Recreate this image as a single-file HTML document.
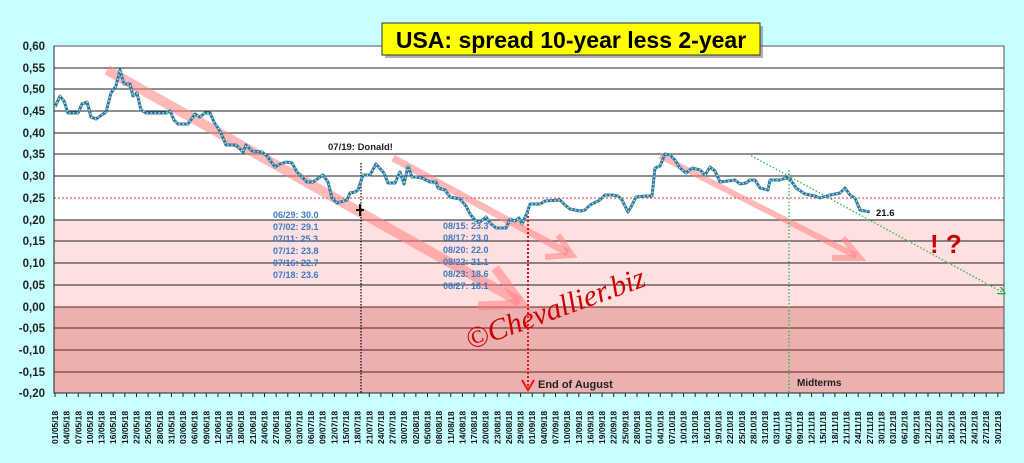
<!DOCTYPE html>
<html><head><meta charset="utf-8"><style>
body{margin:0;background:#c8ffff;}
svg{display:block;font-family:"Liberation Sans",sans-serif;}
</style></head><body>
<svg width="1024" height="463" viewBox="0 0 1024 463" xmlns="http://www.w3.org/2000/svg">
<defs>
<marker id="ah" markerWidth="6" markerHeight="6" refX="3" refY="3" orient="auto"><path d="M0,0 L6,3 L0,6" fill="none" stroke="#22aa44" stroke-width="1"/></marker>
</defs>
<rect width="1024" height="463" fill="#c8ffff"/>
<rect x="54" y="46" width="950" height="174" fill="#ffffff"/>
<rect x="54" y="220" width="950" height="87" fill="#ffe0e0"/>
<rect x="54" y="307" width="950" height="86" fill="#ebb0b0"/>
<g stroke="#222" stroke-width="1">
<line x1="54" y1="46" x2="1004" y2="46"/><line x1="54" y1="68" x2="1004" y2="68"/>
<line x1="54" y1="89" x2="1004" y2="89"/><line x1="54" y1="111" x2="1004" y2="111"/>
<line x1="54" y1="133" x2="1004" y2="133"/><line x1="54" y1="154" x2="1004" y2="154"/>
<line x1="54" y1="176" x2="1004" y2="176"/>
<line x1="54" y1="220" x2="1004" y2="220"/><line x1="54" y1="241" x2="1004" y2="241"/>
<line x1="54" y1="263" x2="1004" y2="263"/><line x1="54" y1="285" x2="1004" y2="285"/>
<line x1="54" y1="307" x2="1004" y2="307" stroke="#6a2020"/><line x1="54" y1="328" x2="1004" y2="328" stroke="#6a2020"/>
<line x1="54" y1="350" x2="1004" y2="350" stroke="#6a2020"/><line x1="54" y1="372" x2="1004" y2="372" stroke="#6a2020"/>
</g>
<line x1="54" y1="198" x2="1004" y2="198" stroke="#e03030" stroke-width="1" stroke-dasharray="2,2"/>
<rect x="54" y="46" width="950" height="347" fill="none" stroke="#555" stroke-width="1"/>
<line x1="54" y1="46" x2="54" y2="393" stroke="#222"/>
<line x1="54" y1="393" x2="1004" y2="393" stroke="#222"/>
<g font-size="11.5" font-weight="bold" fill="#222" text-anchor="end">
<text x="45" y="50">0,60</text><text x="45" y="72">0,55</text><text x="45" y="93">0,50</text>
<text x="45" y="115">0,45</text><text x="45" y="137">0,40</text><text x="45" y="158">0,35</text>
<text x="45" y="180">0,30</text><text x="45" y="202">0,25</text><text x="45" y="224">0,20</text>
<text x="45" y="245">0,15</text><text x="45" y="267">0,10</text><text x="45" y="289">0,05</text>
<text x="45" y="311">0,00</text><text x="45" y="332">-0,05</text><text x="45" y="354">-0,10</text>
<text x="45" y="376">-0,15</text><text x="45" y="397">-0,20</text>
</g>
<line x1="54.5" y1="395" x2="1000" y2="395" stroke="#222" stroke-width="4" stroke-dasharray="1,10.64"/>
<g font-size="8.5" font-weight="bold" fill="#111">
<text transform="translate(58,444) rotate(-90)">01/05/18</text>
<text transform="translate(69.6,444) rotate(-90)">04/05/18</text>
<text transform="translate(81.3,444) rotate(-90)">07/05/18</text>
<text transform="translate(92.9,444) rotate(-90)">10/05/18</text>
<text transform="translate(104.6,444) rotate(-90)">13/05/18</text>
<text transform="translate(116.2,444) rotate(-90)">16/05/18</text>
<text transform="translate(127.8,444) rotate(-90)">19/05/18</text>
<text transform="translate(139.5,444) rotate(-90)">22/05/18</text>
<text transform="translate(151.1,444) rotate(-90)">25/05/18</text>
<text transform="translate(162.8,444) rotate(-90)">28/05/18</text>
<text transform="translate(174.4,444) rotate(-90)">31/05/18</text>
<text transform="translate(186,444) rotate(-90)">03/06/18</text>
<text transform="translate(197.7,444) rotate(-90)">06/06/18</text>
<text transform="translate(209.3,444) rotate(-90)">09/06/18</text>
<text transform="translate(221,444) rotate(-90)">12/06/18</text>
<text transform="translate(232.6,444) rotate(-90)">15/06/18</text>
<text transform="translate(244.2,444) rotate(-90)">18/06/18</text>
<text transform="translate(255.9,444) rotate(-90)">21/06/18</text>
<text transform="translate(267.5,444) rotate(-90)">24/06/18</text>
<text transform="translate(279.2,444) rotate(-90)">27/06/18</text>
<text transform="translate(290.8,444) rotate(-90)">30/06/18</text>
<text transform="translate(302.4,444) rotate(-90)">03/07/18</text>
<text transform="translate(314.1,444) rotate(-90)">06/07/18</text>
<text transform="translate(325.7,444) rotate(-90)">09/07/18</text>
<text transform="translate(337.4,444) rotate(-90)">12/07/18</text>
<text transform="translate(349,444) rotate(-90)">15/07/18</text>
<text transform="translate(360.6,444) rotate(-90)">18/07/18</text>
<text transform="translate(372.3,444) rotate(-90)">21/07/18</text>
<text transform="translate(383.9,444) rotate(-90)">24/07/18</text>
<text transform="translate(395.6,444) rotate(-90)">27/07/18</text>
<text transform="translate(407.2,444) rotate(-90)">30/07/18</text>
<text transform="translate(418.8,444) rotate(-90)">02/08/18</text>
<text transform="translate(430.5,444) rotate(-90)">05/08/18</text>
<text transform="translate(442.1,444) rotate(-90)">08/08/18</text>
<text transform="translate(453.8,444) rotate(-90)">11/08/18</text>
<text transform="translate(465.4,444) rotate(-90)">14/08/18</text>
<text transform="translate(477,444) rotate(-90)">17/08/18</text>
<text transform="translate(488.7,444) rotate(-90)">20/08/18</text>
<text transform="translate(500.3,444) rotate(-90)">23/08/18</text>
<text transform="translate(512,444) rotate(-90)">26/08/18</text>
<text transform="translate(523.6,444) rotate(-90)">29/08/18</text>
<text transform="translate(535.2,444) rotate(-90)">01/09/18</text>
<text transform="translate(546.9,444) rotate(-90)">04/09/18</text>
<text transform="translate(558.5,444) rotate(-90)">07/09/18</text>
<text transform="translate(570.2,444) rotate(-90)">10/09/18</text>
<text transform="translate(581.8,444) rotate(-90)">13/09/18</text>
<text transform="translate(593.4,444) rotate(-90)">16/09/18</text>
<text transform="translate(605.1,444) rotate(-90)">19/09/18</text>
<text transform="translate(616.7,444) rotate(-90)">22/09/18</text>
<text transform="translate(628.4,444) rotate(-90)">25/09/18</text>
<text transform="translate(640,444) rotate(-90)">28/09/18</text>
<text transform="translate(651.6,444) rotate(-90)">01/10/18</text>
<text transform="translate(663.3,444) rotate(-90)">04/10/18</text>
<text transform="translate(674.9,444) rotate(-90)">07/10/18</text>
<text transform="translate(686.6,444) rotate(-90)">10/10/18</text>
<text transform="translate(698.2,444) rotate(-90)">13/10/18</text>
<text transform="translate(709.8,444) rotate(-90)">16/10/18</text>
<text transform="translate(721.5,444) rotate(-90)">19/10/18</text>
<text transform="translate(733.1,444) rotate(-90)">22/10/18</text>
<text transform="translate(744.8,444) rotate(-90)">25/10/18</text>
<text transform="translate(756.4,444) rotate(-90)">28/10/18</text>
<text transform="translate(768,444) rotate(-90)">31/10/18</text>
<text transform="translate(779.7,444) rotate(-90)">03/11/18</text>
<text transform="translate(791.3,444) rotate(-90)">06/11/18</text>
<text transform="translate(803,444) rotate(-90)">09/11/18</text>
<text transform="translate(814.6,444) rotate(-90)">12/11/18</text>
<text transform="translate(826.2,444) rotate(-90)">15/11/18</text>
<text transform="translate(837.9,444) rotate(-90)">18/11/18</text>
<text transform="translate(849.5,444) rotate(-90)">21/11/18</text>
<text transform="translate(861.2,444) rotate(-90)">24/11/18</text>
<text transform="translate(872.8,444) rotate(-90)">27/11/18</text>
<text transform="translate(884.4,444) rotate(-90)">30/11/18</text>
<text transform="translate(896.1,444) rotate(-90)">03/12/18</text>
<text transform="translate(907.7,444) rotate(-90)">06/12/18</text>
<text transform="translate(919.4,444) rotate(-90)">09/12/18</text>
<text transform="translate(931,444) rotate(-90)">12/12/18</text>
<text transform="translate(942.6,444) rotate(-90)">15/12/18</text>
<text transform="translate(954.3,444) rotate(-90)">18/12/18</text>
<text transform="translate(965.9,444) rotate(-90)">21/12/18</text>
<text transform="translate(977.6,444) rotate(-90)">24/12/18</text>
<text transform="translate(989.2,444) rotate(-90)">27/12/18</text>
<text transform="translate(1000.8,444) rotate(-90)">30/12/18</text>
</g>
<g stroke="#ff8080" stroke-opacity="0.55" fill="none" stroke-linecap="butt">
<line x1="107" y1="70" x2="520" y2="302" stroke-width="10"/>
<path d="M495,268 L522,304 L478,306" stroke-width="9"/>
<line x1="393" y1="158" x2="568" y2="253" stroke-width="7"/>
<path d="M558,235 L572,255 L545,257" stroke-width="6"/>
<line x1="660" y1="156" x2="856" y2="256" stroke-width="6"/>
<path d="M843,238 L860,258 L832,258" stroke-width="6"/>
</g>
<line x1="361" y1="163" x2="361" y2="393" stroke="#111" stroke-width="1.3" stroke-dasharray="1.5,1.5"/>
<line x1="528" y1="208" x2="528" y2="386" stroke="#ee1111" stroke-width="2" stroke-dasharray="2,2"/>
<path d="M522,380 L528,390 L534,380" fill="none" stroke="#ee1111" stroke-width="2"/>
<line x1="789" y1="170" x2="789" y2="393" stroke="#22bb44" stroke-width="1.3" stroke-dasharray="1.5,2"/>
<line x1="748" y1="154" x2="1002" y2="292" stroke="#22bb44" stroke-width="1.3" stroke-dasharray="1.5,2" marker-end="url(#ah)"/>
<polyline fill="none" stroke="#1e78c8" stroke-width="3" stroke-linejoin="round" points="55,107 60,96 64,101 68,113 78,113 82,104 87,102 91,117 96,119 106,112 111,93 116,86 120,70 124,84 130,84 133,96 137,93 141,110 146,113 166,113 170,111 174,120 178,124 188,124 195,114 200,117 205,113 210,113 214,122 221,133 226,145 236,145 243,152 246,145 252,151 262,152 267,156 275,167 280,164 286,162 292,163 297,172 303,178 307,182 313,182 323,175 328,182 332,198 337,203 347,200 350,193 355,192 358,190 363,175 370,175 376,164 384,173 388,183 395,183 400,172 404,184 408,166 412,177 416,177 422,178 430,182 436,182 438,188 445,190 450,197 460,199 466,206 470,214 475,220 480,222 486,217 490,223 496,228 506,228 510,219 515,221 519,218 522,224 527,213 530,204 540,204 545,201 560,200 565,205 570,209 580,211 585,210 590,205 600,200 605,195 612,195 618,196 622,200 628,212 631,207 636,197 646,196 652,196 655,168 660,166 665,154 670,155 675,160 680,168 686,173 692,168 700,170 705,175 710,167 715,171 720,182 735,180 740,184 746,183 750,180 755,180 760,188 768,190 770,180 780,180 786,178 790,179 796,188 805,194 815,196 820,198 830,195 840,193 845,188 850,195 855,198 860,210 870,212"/>
<polyline fill="none" stroke="#e8e050" stroke-width="1.6" stroke-dasharray="1.5,2.5" points="55,107 60,96 64,101 68,113 78,113 82,104 87,102 91,117 96,119 106,112 111,93 116,86 120,70 124,84 130,84 133,96 137,93 141,110 146,113 166,113 170,111 174,120 178,124 188,124 195,114 200,117 205,113 210,113 214,122 221,133 226,145 236,145 243,152 246,145 252,151 262,152 267,156 275,167 280,164 286,162 292,163 297,172 303,178 307,182 313,182 323,175 328,182 332,198 337,203 347,200 350,193 355,192 358,190 363,175 370,175 376,164 384,173 388,183 395,183 400,172 404,184 408,166 412,177 416,177 422,178 430,182 436,182 438,188 445,190 450,197 460,199 466,206 470,214 475,220 480,222 486,217 490,223 496,228 506,228 510,219 515,221 519,218 522,224 527,213 530,204 540,204 545,201 560,200 565,205 570,209 580,211 585,210 590,205 600,200 605,195 612,195 618,196 622,200 628,212 631,207 636,197 646,196 652,196 655,168 660,166 665,154 670,155 675,160 680,168 686,173 692,168 700,170 705,175 710,167 715,171 720,182 735,180 740,184 746,183 750,180 755,180 760,188 768,190 770,180 780,180 786,178 790,179 796,188 805,194 815,196 820,198 830,195 840,193 845,188 850,195 855,198 860,210 870,212"/>
<path d="M356,210 H364 M360,204 V216" stroke="#111" stroke-width="2"/>
<text x="328" y="150" font-size="9.5" font-weight="bold" fill="#222">07/19: Donald!</text>
<g font-size="9" font-weight="bold" fill="#3a7ac8">
<text x="273" y="218">06/29: 30.0</text><text x="273" y="230">07/02: 29.1</text>
<text x="273" y="242">07/11: 25.3</text><text x="273" y="254">07/12: 23.8</text>
<text x="273" y="266">07/16: 22.7</text><text x="273" y="278">07/18: 23.6</text>
<text x="443" y="229">08/15: 23.3</text><text x="443" y="241">08/17: 23.0</text>
<text x="443" y="253">08/20: 22.0</text><text x="443" y="265">08/22: 21.1</text>
<text x="443" y="277">08/23: 18.6</text><text x="443" y="289">08/27: 18.1</text>
</g>
<text x="876" y="216" font-size="9.5" font-weight="bold" fill="#111">21.6</text>
<text x="930" y="253" font-size="26" font-weight="bold" fill="#cc0000">! ?</text>
<text x="538" y="388" font-size="11" font-weight="bold" fill="#222">End of August</text>
<text x="797" y="386" font-size="10" font-weight="bold" fill="#222">Midterms</text>
<text x="0" y="0" font-size="30" font-style="italic" font-family="'Liberation Serif',serif" fill="#d00000" transform="translate(470,350) rotate(-20)">©Chevallier.biz</text>
<rect x="385" y="26" width="378" height="32" fill="#666" opacity="0.5"/>
<rect x="382" y="23" width="378" height="32" fill="#ffff00" stroke="#333" stroke-width="1"/>
<text x="571" y="48" font-size="23" font-weight="bold" fill="#000" text-anchor="middle">USA: spread 10-year less 2-year</text>
</svg>
</body></html>
